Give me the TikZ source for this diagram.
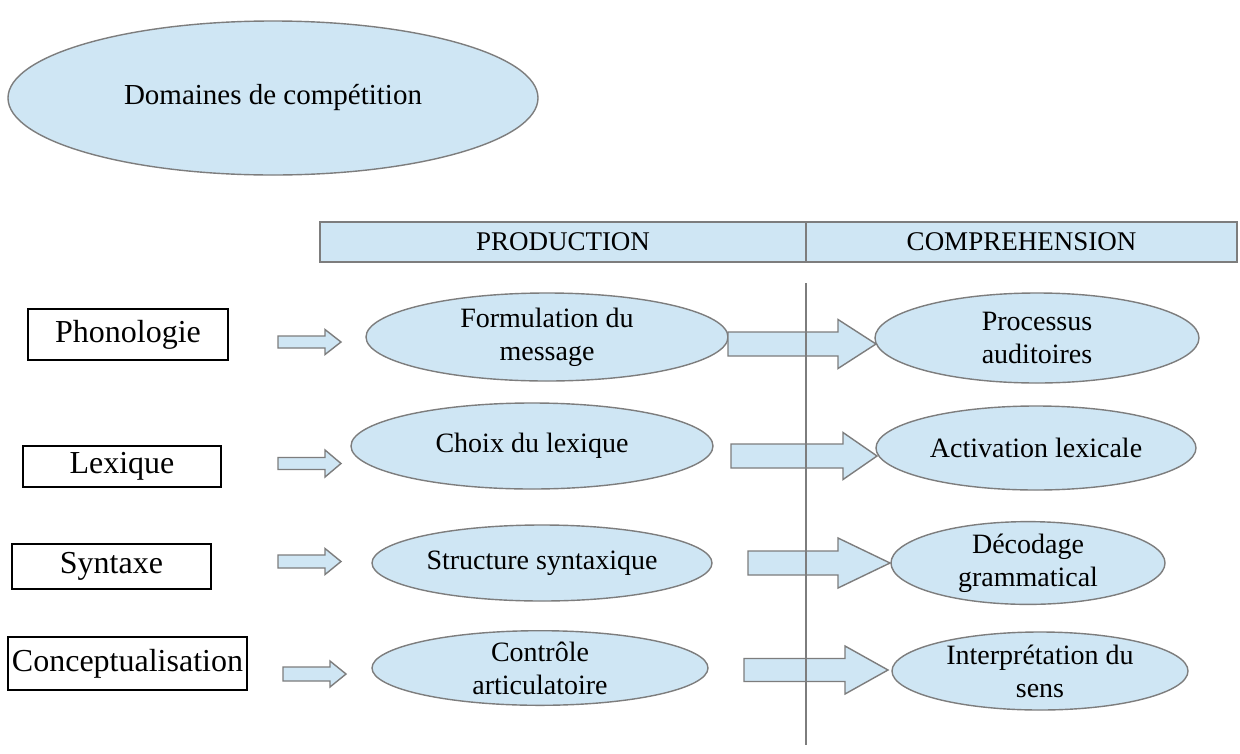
\documentclass[tikz,border=0pt]{standalone}
\usepackage{fontspec}
\setmainfont{Liberation Serif}
\usetikzlibrary{shapes.geometric}
\definecolor{fillblue}{RGB}{207,230,244}
\definecolor{edgegray}{RGB}{125,125,125}
\tikzset{
  oval/.style={ellipse, draw=edgegray, fill=fillblue, line width=1.4pt, inner sep=0pt, align=center,
    font=\fontsize{28}{33}\selectfont},
  hdr/.style={rectangle, draw=edgegray, fill=fillblue, line width=1.4pt, inner sep=0pt,
    font=\fontsize{27}{32}\selectfont},
  lbox/.style={rectangle, draw=black, fill=white, line width=1.4pt, inner sep=0pt,
    font=\fontsize{32}{36}\selectfont},
  arrowbody/.style={draw=edgegray, fill=fillblue, line width=1.4pt, line join=miter},
  vline/.style={draw=edgegray, line width=1.6pt}
}
\newcommand\blockarr[6]{%
  \filldraw[arrowbody] (#1,#4-#5) -- (#2,#4-#5) -- (#2,#4-#6) -- (#3,#4) -- (#2,#4+#6) -- (#2,#4+#5) -- (#1,#4+#5) -- cycle;}
\begin{document}
\begin{tikzpicture}[x=1pt,y=-1pt]
\useasboundingbox (0,0) rectangle (1240,753);
\fill[white] (0,0) rectangle (1240,753);

% title ellipse
\node[oval, minimum width=530pt, minimum height=154pt, font=\fontsize{29}{33}\selectfont] (dom) at (273,98) {Domaines de compétition};

% header
\node[hdr, minimum width=486pt, minimum height=40pt] (prod) at (563,242) {PRODUCTION};
\node[hdr, minimum width=431pt, minimum height=40pt] (comp) at (1021.5,242) {COMPREHENSION};

% left boxes
\node[lbox, minimum width=200pt, minimum height=51pt] (pho) at (128,334.5) {Phonologie};
\node[lbox, minimum width=198pt, minimum height=41pt] (lex) at (122,466.5) {Lexique};
\node[lbox, minimum width=199pt, minimum height=45pt] (syn) at (111.5,566.5) {Syntaxe};
\node[lbox, minimum width=239pt, minimum height=53pt] (con) at (127.5,663.5) {Conceptualisation};

% production ellipses
\node[oval, minimum width=362pt, minimum height=88pt] (form) at (547,337) {Formulation du\\message};
\node[oval, minimum width=362pt, minimum height=86pt] (choix) at (532,446) {Choix du lexique};
\node[oval, minimum width=340pt, minimum height=76pt] (struc) at (542,563) {Structure syntaxique};
\node[oval, minimum width=336pt, minimum height=70pt] (ctrl) at (540,668) {Contrôle\\articulatoire};

% comprehension ellipses
\node[oval, minimum width=324pt, minimum height=90pt] (proc) at (1037,338) {Processus\\auditoires};
\node[oval, minimum width=320pt, minimum height=84pt] (act) at (1036,448) {Activation lexicale};
\node[oval, minimum width=274pt, minimum height=80pt] (deco) at (1028,563) {Décodage\\grammatical};
\node[oval, minimum width=296pt, minimum height=78pt] (interp) at (1040,671) {Interprétation du\\sens};

% small arrows
\blockarr{278}{325}{341}{342}{6}{12.5}
\blockarr{278}{325}{341}{463.5}{6}{13.5}
\blockarr{278}{325}{341}{561.5}{6.5}{13}
\blockarr{283}{330}{346}{674}{7}{13}

% big arrows
\blockarr{728}{838}{876}{344}{12}{24.5}
\blockarr{731}{843}{877}{456}{12}{23.5}
\blockarr{748}{838}{890}{563}{12}{25}
\blockarr{744}{845}{888}{670}{11.5}{24}

% vertical divider
\coordinate (vtop) at (806,283);
\coordinate (vbot) at (806,745);
\draw[vline] (vtop) -- (vbot);
\end{tikzpicture}
\end{document}
